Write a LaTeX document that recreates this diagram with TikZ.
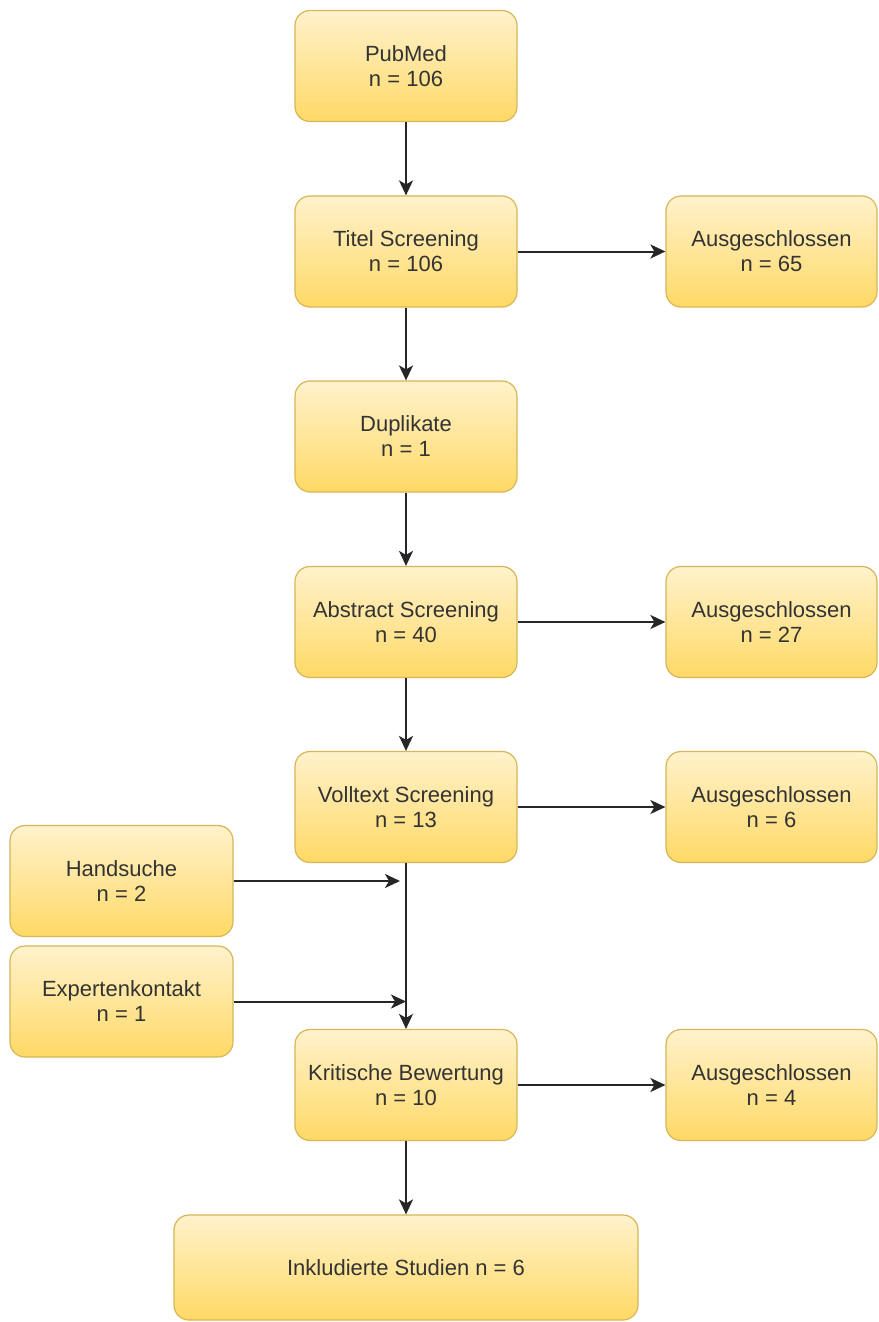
\documentclass[tikz,border=0pt]{standalone}
\usepackage{fontspec}
\setmainfont{Liberation Sans}
\usetikzlibrary{arrows.meta}
\definecolor{boxtop}{HTML}{FFF2CC}
\definecolor{boxbot}{HTML}{FFD966}
\definecolor{boxline}{HTML}{D6B656}
\definecolor{txt}{HTML}{333333}
\tikzset{
  box/.style={draw=boxline, line width=1.2pt, rounded corners=15pt,
    top color=boxtop, bottom color=boxbot, text=txt, align=center,
    font=\fontsize{22}{25}\selectfont, inner sep=0pt,
    minimum width=222pt, minimum height=111pt},
  sidebox/.style={box, minimum width=211pt},
  conn/.style={line width=2pt, draw=black!85, -{Stealth[length=15pt,width=14pt,inset=4pt]}}
}
\begin{document}
\begin{tikzpicture}[x=1pt,y=-1pt]
\useasboundingbox (0,0) rectangle (878,1322);
\node[box] (pub) at (406,66) {PubMed\\n = 106};
\node[box] (titel) at (406,251.5) {Titel Screening\\n = 106};
\node[sidebox] (aus1) at (771.5,251.5) {Ausgeschlossen\\n = 65};
\node[box] (dup) at (406,436.5) {Duplikate\\n = 1};
\node[box] (abs) at (406,622) {Abstract Screening\\n = 40};
\node[sidebox] (aus2) at (771.5,622) {Ausgeschlossen\\n = 27};
\node[box] (voll) at (406,807) {Volltext Screening\\n = 13};
\node[sidebox] (aus3) at (771.5,807) {Ausgeschlossen\\n = 6};
\node[box, minimum width=223pt] (hand) at (121.5,881) {Handsuche\\n = 2};
\node[box, minimum width=223pt] (exp) at (121.5,1001.5) {Expertenkontakt\\n = 1};
\node[box] (krit) at (406,1085) {Kritische Bewertung\\n = 10};
\node[sidebox] (aus4) at (771.5,1085) {Ausgeschlossen\\n = 4};
\node[box, minimum width=464pt, minimum height=105pt] (ink) at (406,1267.5) {Inkludierte Studien n = 6};
\coordinate (hin) at (400,881);
\coordinate (ein) at (406,1001.5);
\draw[conn] (pub) -- (titel);
\draw[conn] (titel) -- (dup);
\draw[conn] (dup) -- (abs);
\draw[conn] (abs) -- (voll);
\draw[conn] (voll) -- (krit);
\draw[conn] (krit) -- (ink);
\draw[conn] (titel) -- (aus1);
\draw[conn] (abs) -- (aus2);
\draw[conn] (voll) -- (aus3);
\draw[conn] (krit) -- (aus4);
\draw[conn] (hand.east) -- (hin);
\draw[conn] (exp.east) -- (ein);
\end{tikzpicture}
\end{document}
